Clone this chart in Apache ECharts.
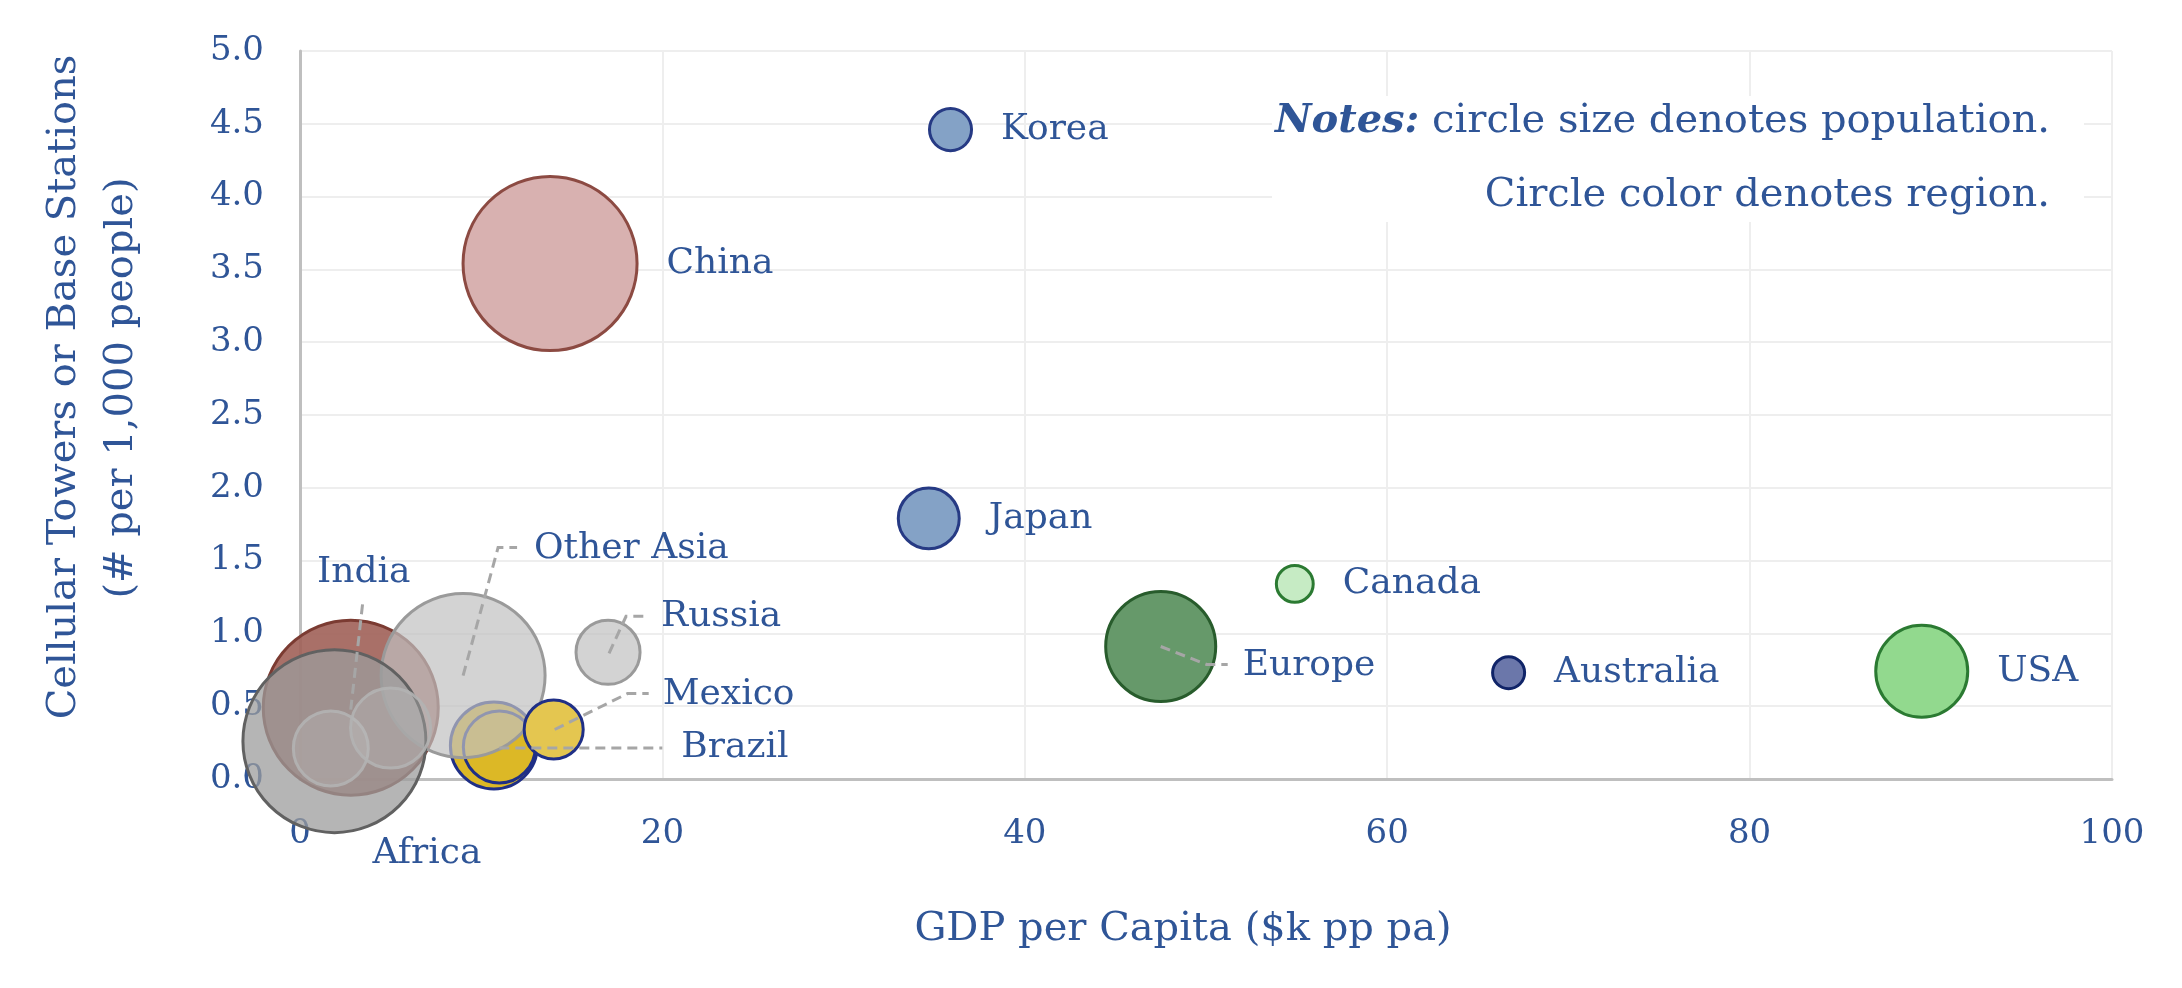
<!DOCTYPE html>
<html>
<head>
<meta charset="utf-8">
<script src="https://cdn.jsdelivr.net/npm/echarts@6/dist/echarts.min.js"></script>
<style>
html,body{margin:0;padding:0;background:#fff;}
#chart{width:2182px;height:988px;}
</style>
</head>
<body>
<div id="chart"></div>
<script>
// ---- Data ----
const names      = ['Other Latin America','Brazil','India','Other Asia','Africa','Other (a)','Other (b)','Mexico','Russia','China','Korea','Japan','Europe','Canada','Australia','USA'];
const gdpPerCap  = [10.7, 11.0, 2.8, 9.0, 1.9, 1.7, 5.0, 14.0, 17.0, 13.8, 35.9, 34.7, 47.5, 54.9, 66.7, 89.5];   // $k pp pa
const towers     = [0.23, 0.22, 0.49, 0.71, 0.26, 0.21, 0.35, 0.34, 0.87, 3.54, 4.46, 1.79, 0.91, 1.34, 0.73, 0.74]; // per 1,000 people
const population = [295, 202, 1194, 1049, 1306, 219, 250, 136, 160, 1181, 69, 145, 472, 53, 40, 330];           // bubble size (m)
const region     = ['latam','latam','india','grey','africa','greyLight','greyLight','mexico','grey','china','eastAsia','eastAsia','europe','canada','australia','usa'];
const xTicks = [0, 20, 40, 60, 80, 100];
const yTicks = [0.0, 0.5, 1.0, 1.5, 2.0, 2.5, 3.0, 3.5, 4.0, 4.5, 5.0];
const labelledRight = ['China','Korea','Japan','Canada','Australia','USA'];
const labelledLeader = ['Europe','Other Asia','India','Russia','Mexico','Brazil','Africa'];

// ---- Styles ----
const FONT = 'DejaVu Serif';
const BLUE = '#2F5597';
const regionStyle = {
  latam:     {color:'#dcb826', borderColor:'#1f2f86'},
  mexico:    {color:'#e4c650', borderColor:'#1f2f86'},
  india:     {color:'rgba(160,96,88,0.9)', borderColor:'#7b3b32'},
  grey:      {color:'rgba(192,192,192,0.7)', borderColor:'#9a9a9a'},
  africa:    {color:'rgba(156,156,156,0.75)', borderColor:'#616161'},
  greyLight: {color:'rgba(190,190,190,0.35)', borderColor:'rgba(178,178,178,0.9)'},
  china:     {color:'#d8b1b0', borderColor:'#8c4a42'},
  eastAsia:  {color:'#84a2c6', borderColor:'#263a84'},
  europe:    {color:'#66996a', borderColor:'#285c2c'},
  canada:    {color:'#c6ebc4', borderColor:'#2b7a32'},
  australia: {color:'#6b77aa', borderColor:'#102468'},
  usa:       {color:'#92d98e', borderColor:'#2b7a32'}
};
// label layout: leader polyline points and text anchor, in px relative to bubble centre
const leaderLayout = {
  'Europe':     {pts:[[0,0],[46,18],[67,18]],       text:[82,19],   align:'left'},
  'Other Asia': {pts:[[0,0],[35,-128],[54,-128]],   text:[71,-127], align:'left'},
  'India':      {pts:[[0,2],[12,-105]],             text:[13,-135], align:'center'},
  'Russia':     {pts:[[1,1],[18,-36],[37,-36]],     text:[53,-36],  align:'left'},
  'Mexico':     {pts:[[1,0],[74,-36],[95,-36]],     text:[109,-35], align:'left'},
  'Brazil':     {pts:[[0,1],[163,1]],               text:[182,1],   align:'left'},
  'Africa':     {pts:null,                          text:[38,112],  align:'left'}
};
const SIZE_K = 5.064;
const LABEL_PX = 36;
const TITLE_PX = 40;

const bubbleData = names.map((n, i) => ({
  name: n,
  value: [gdpPerCap[i], towers[i], population[i]],
  itemStyle: Object.assign({borderWidth: 3, opacity: 1}, regionStyle[region[i]]),
  label: {show: labelledRight.indexOf(n) >= 0}
}));

const leaderData = [];
names.forEach((n, i) => {
  if (labelledLeader.indexOf(n) >= 0) leaderData.push({name: n, value: [gdpPerCap[i], towers[i]]});
});

const chart = echarts.init(document.getElementById('chart'), null, {renderer: 'canvas'});
chart.setOption({
  backgroundColor: '#fff',
  animation: false,
  grid: {left: 300, right: 70, top: 51, bottom: 209, containLabel: false},
  xAxis: {
    type: 'value', min: 0, max: 100, interval: 20,
    axisLine: {show: true, onZero: false, lineStyle: {color: '#bfbfbf', width: 3}},
    axisTick: {show: false},
    axisLabel: {color: BLUE, fontFamily: FONT, fontSize: 34, margin: 38,
      formatter: v => xTicks.indexOf(v) >= 0 ? String(v) : ''},
    splitLine: {show: true, lineStyle: {color: '#eeeeee', width: 2}}
  },
  yAxis: {
    type: 'value', min: 0, max: 5, interval: 0.5,
    axisLine: {show: true, onZero: false, lineStyle: {color: '#bfbfbf', width: 3}},
    axisTick: {show: false},
    axisLabel: {color: BLUE, fontFamily: FONT, fontSize: 34, margin: 36,
      formatter: v => yTicks.some(t => Math.abs(t - v) < 1e-9) ? v.toFixed(1) : ''},
    splitLine: {show: true, lineStyle: {color: '#eeeeee', width: 2}}
  },
  series: [
    {
      type: 'scatter',
      data: bubbleData,
      symbol: 'circle',
      symbolSize: v => SIZE_K * Math.sqrt(v[2]),
      label: {position: 'right', distance: 28, formatter: '{b}', color: BLUE, fontFamily: FONT, fontSize: LABEL_PX},
      emphasis: {disabled: true},
      z: 2
    },
    {
      type: 'custom',
      data: leaderData,
      z: 5,
      renderItem: (params, api) => {
        const n = leaderData[params.dataIndex].name;
        const L = leaderLayout[n];
        const c = api.coord([api.value(0), api.value(1)]);
        const children = [];
        if (L.pts) {
          children.push({
            type: 'polyline',
            shape: {points: L.pts.map(p => [c[0] + p[0], c[1] + p[1]])},
            style: {stroke: '#a6a6a6', lineWidth: 3, lineDash: [10, 6], fill: null}
          });
        }
        children.push({
          type: 'text',
          style: {x: c[0] + L.text[0], y: c[1] + L.text[1], text: n, fill: BLUE,
            font: LABEL_PX + 'px "' + FONT + '"', textAlign: L.align, textVerticalAlign: 'middle'}
        });
        return {type: 'group', children: children};
      }
    }
  ],
  graphic: [
    {type: 'rect', shape: {x: 1272, y: 96, width: 812, height: 126}, style: {fill: '#ffffff'}, z: 10},
    {type: 'text', x: 2050, y: 122, z: 11, style: {
      text: '{b|Notes:} circle size denotes population.',
      textAlign: 'right', textVerticalAlign: 'middle', fill: BLUE,
      font: TITLE_PX + 'px "' + FONT + '"',
      rich: {b: {fontFamily: FONT, fontSize: TITLE_PX, fontWeight: 'bold', fontStyle: 'italic', fill: BLUE}}
    }},
    {type: 'text', x: 2050, y: 196, z: 11, style: {
      text: 'Circle color denotes region.', textAlign: 'right', textVerticalAlign: 'middle',
      fill: BLUE, font: TITLE_PX + 'px "' + FONT + '"'
    }},
    {type: 'text', x: 1183, y: 930, style: {
      text: 'GDP per Capita ($k pp pa)', textAlign: 'center', textVerticalAlign: 'middle',
      fill: BLUE, font: TITLE_PX + 'px "' + FONT + '"'
    }},
    {type: 'text', x: 65, y: 387, rotation: Math.PI / 2, style: {
      text: 'Cellular Towers or Base Stations', textAlign: 'center', textVerticalAlign: 'middle',
      fill: BLUE, font: TITLE_PX + 'px "' + FONT + '"'
    }},
    {type: 'text', x: 122, y: 388, rotation: Math.PI / 2, style: {
      text: '(# per 1,000 people)', textAlign: 'center', textVerticalAlign: 'middle',
      fill: BLUE, font: TITLE_PX + 'px "' + FONT + '"'
    }}
  ]
});
</script>
</body>
</html>
